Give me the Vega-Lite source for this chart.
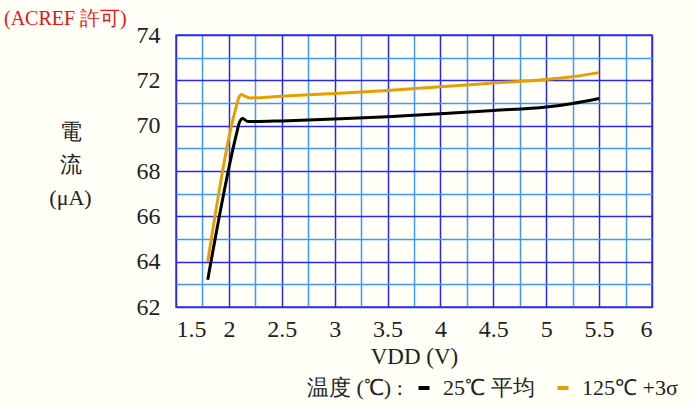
{
  "$schema": "https://vega.github.io/schema/vega-lite/v6.json",
  "width": 476,
  "height": 272,
  "autosize": {"type": "none"},
  "padding": {"left": 176, "top": 35, "right": 42, "bottom": 101},
  "background": "#fffff8",
  "config": {
    "font": "Liberation Serif",
    "axis": {"labelFont": "Liberation Serif", "titleFont": "Liberation Serif"},
    "legend": {"labelFont": "Liberation Serif", "titleFont": "Liberation Serif"},
    "view": {"stroke": "#3a3aee", "strokeWidth": 1.5}
  },
  "title": {
    "text": "(ACREF 許可)",
    "anchor": "start",
    "frame": "group",
    "dx": -172,
    "dy": 44,
    "offset": 18,
    "baseline": "bottom",
    "fontSize": 20,
    "fontWeight": "normal",
    "color": "#ee1111"
  },
  "data": {
    "values": [
      {"vdd": 1.8, "current": 63.2, "series": "25℃ 平均"},
      {"vdd": 2.07, "current": 69.6, "series": "25℃ 平均"},
      {"vdd": 2.1, "current": 70.15, "series": "25℃ 平均"},
      {"vdd": 2.13, "current": 70.32, "series": "25℃ 平均"},
      {"vdd": 2.18, "current": 70.18, "series": "25℃ 平均"},
      {"vdd": 2.5, "current": 70.21, "series": "25℃ 平均"},
      {"vdd": 3.0, "current": 70.29, "series": "25℃ 平均"},
      {"vdd": 3.5, "current": 70.39, "series": "25℃ 平均"},
      {"vdd": 4.0, "current": 70.53, "series": "25℃ 平均"},
      {"vdd": 4.5, "current": 70.67, "series": "25℃ 平均"},
      {"vdd": 5.0, "current": 70.82, "series": "25℃ 平均"},
      {"vdd": 5.25, "current": 70.98, "series": "25℃ 平均"},
      {"vdd": 5.5, "current": 71.2, "series": "25℃ 平均"},
      {"vdd": 1.8, "current": 64.0, "series": "125℃ +3σ"},
      {"vdd": 2.07, "current": 70.85, "series": "125℃ +3σ"},
      {"vdd": 2.095, "current": 71.25, "series": "125℃ +3σ"},
      {"vdd": 2.12, "current": 71.38, "series": "125℃ +3σ"},
      {"vdd": 2.15, "current": 71.3, "series": "125℃ +3σ"},
      {"vdd": 2.2, "current": 71.22, "series": "125℃ +3σ"},
      {"vdd": 2.5, "current": 71.3, "series": "125℃ +3σ"},
      {"vdd": 3.0, "current": 71.42, "series": "125℃ +3σ"},
      {"vdd": 3.5, "current": 71.55, "series": "125℃ +3σ"},
      {"vdd": 4.0, "current": 71.72, "series": "125℃ +3σ"},
      {"vdd": 4.5, "current": 71.88, "series": "125℃ +3σ"},
      {"vdd": 5.0, "current": 72.04, "series": "125℃ +3σ"},
      {"vdd": 5.25, "current": 72.16, "series": "125℃ +3σ"},
      {"vdd": 5.5, "current": 72.34, "series": "125℃ +3σ"}
    ]
  },
  "layer": [
    {
      "mark": {"type": "line", "opacity": 0},
      "encoding": {
        "x": {
          "field": "vdd", "type": "quantitative",
          "scale": {"domain": [1.5, 6], "nice": false, "zero": false},
          "axis": {"orient": "top", "values": [1.75, 2.25, 2.75, 3.25, 3.75, 4.25, 4.75, 5.25, 5.75], "grid": true, "gridColor": "#3f96ff", "gridWidth": 1.5, "gridOpacity": 1, "labels": false, "ticks": false, "domain": false, "title": null}
        },
        "y": {
          "field": "current", "type": "quantitative",
          "scale": {"domain": [62, 74], "nice": false, "zero": false},
          "axis": {"orient": "right", "values": [63, 65, 67, 69, 71, 73], "grid": true, "gridColor": "#3f96ff", "gridWidth": 1.5, "gridOpacity": 1, "labels": false, "ticks": false, "domain": false, "title": null}
        },
        "detail": {"field": "series"}
      }
    },
    {
      "mark": {"type": "line", "strokeWidth": 3, "interpolate": "monotone"},
      "encoding": {
        "x": {
          "field": "vdd", "type": "quantitative",
          "scale": {"domain": [1.5, 6], "nice": false, "zero": false},
          "axis": {"orient": "bottom", "values": [1.5, 2, 2.5, 3, 3.5, 4, 4.5, 5, 5.5, 6], "format": "~g", "grid": true, "gridColor": "#2828ee", "gridWidth": 1.5, "gridOpacity": 1, "ticks": false, "domain": false, "labelPadding": 10, "labelFontSize": 24, "labelFont": "Liberation Serif", "labelColor": "#222222", "title": "VDD (V)", "titleFont": "Liberation Serif", "titleFontSize": 23, "titleFontWeight": "normal", "titleColor": "#222222", "titlePadding": 4}
        },
        "y": {
          "field": "current", "type": "quantitative",
          "scale": {"domain": [62, 74], "nice": false, "zero": false},
          "axis": {"orient": "left", "values": [62, 64, 66, 68, 70, 72, 74], "grid": true, "gridColor": "#2828ee", "gridWidth": 1.5, "gridOpacity": 1, "ticks": false, "domain": false, "labelPadding": 16, "labelFontSize": 24, "labelFont": "Liberation Serif", "labelColor": "#222222", "title": ["電", "流", "(μA)"], "titleFont": "Liberation Serif", "titleAngle": 0, "titleAlign": "center", "titleBaseline": "top", "titleX": -106, "titleY": 86, "titleFontSize": 22, "titleLineHeight": 33, "titleFontWeight": "normal", "titleColor": "#222222"}
        },
        "color": {
          "field": "series", "type": "nominal",
          "scale": {"domain": ["25℃ 平均", "125℃ +3σ"], "range": ["#000000", "#e69f00"]},
          "legend": {"orient": "none", "legendX": 131, "legendY": 342, "direction": "horizontal", "title": "温度 (℃) :", "titleOrient": "left", "titleFont": "Liberation Serif", "titleFontSize": 22, "titleFontWeight": "normal", "titleColor": "#222222", "titlePadding": 8, "labelFont": "Liberation Serif", "labelFontSize": 22, "labelColor": "#222222", "symbolType": "stroke", "symbolStrokeWidth": 4, "symbolSize": 120, "labelOffset": 8, "columnPadding": 12}
        }
      }
    }
  ],
  "resolve": {"axis": {"x": "independent", "y": "independent"}}
}
